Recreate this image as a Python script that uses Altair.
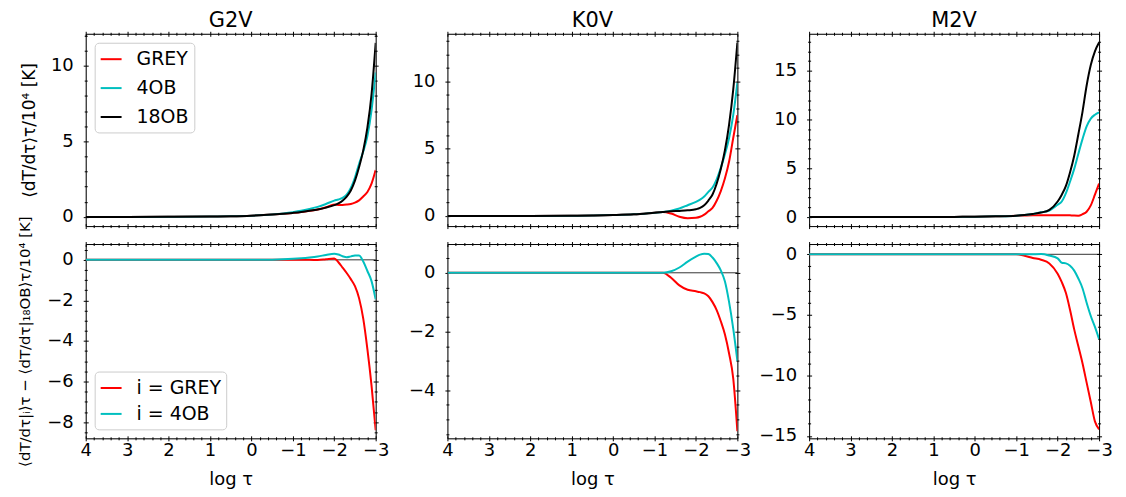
import altair as alt
import pandas as pd

# ---------------- data ----------------
log_tau = [4.0, 3.0, 2.0, 1.0, 0.5, 0.0, -0.5, -1.0, -1.2, -1.4, -1.6, -1.8,
           -2.0, -2.1, -2.2, -2.3, -2.4, -2.5, -2.6, -2.7, -2.8, -2.9, -3.0]

star_names = ["G2V", "K0V", "M2V"]
top_series = ["GREY", "4OB", "18OB"]
bottom_series = ["i = GREY", "i = 4OB"]
top_colors = ["#ff0000", "#00bfbf", "#000000"]
bottom_colors = ["#ff0000", "#00bfbf"]

g2v_grey = [0, 0, 0.01, 0.03, 0.05, 0.09, 0.16, 0.27, 0.33, 0.41, 0.49, 0.64, 0.82, 0.8, 0.8, 0.82, 0.86, 0.95, 1.1, 1.35, 1.65, 2.2, 3.1]
g2v_4ob = [0, 0, 0.01, 0.03, 0.05, 0.09, 0.17, 0.32, 0.41, 0.53, 0.67, 0.86, 1.08, 1.16, 1.26, 1.48, 1.92, 2.61, 3.52, 4.32, 5.35, 7.05, 9.55]
g2v_18ob = [0, 0, 0.01, 0.03, 0.05, 0.09, 0.16, 0.27, 0.33, 0.41, 0.5, 0.62, 0.78, 0.9, 1.08, 1.35, 1.75, 2.4, 3.3, 4.4, 5.9, 8.1, 11.5]
g2v_d_grey = [0, 0, 0, 0, 0, 0, 0, 0, 0, 0, -0.01, 0.03, 0.07, -0.12, -0.38, -0.65, -0.95, -1.3, -1.9, -2.9, -4.4, -6.2, -8.4]
g2v_d_4ob = [0, 0, 0, 0, 0, 0, 0.01, 0.05, 0.08, 0.12, 0.17, 0.24, 0.3, 0.26, 0.18, 0.13, 0.17, 0.21, 0.22, -0.08, -0.55, -1.05, -1.95]

k0v_grey = [0, 0, 0, 0.01, 0.03, 0.07, 0.13, 0.25, 0.3, 0.18, -0.05, -0.16, -0.13, -0.06, 0.1, 0.35, 0.6, 1.13, 1.85, 2.8, 4.05, 5.8, 7.5]
k0v_4ob = [0, 0, 0, 0.01, 0.03, 0.07, 0.13, 0.25, 0.3, 0.4, 0.56, 0.8, 1.05, 1.22, 1.45, 1.79, 2.12, 2.73, 3.58, 4.6, 5.8, 7.5, 9.9]
k0v_18ob = [0, 0, 0, 0.01, 0.03, 0.07, 0.13, 0.25, 0.3, 0.35, 0.38, 0.42, 0.5, 0.6, 0.8, 1.15, 1.6, 2.4, 3.5, 4.9, 6.8, 9.4, 12.9]
k0v_d_grey = [0, 0, 0, 0, 0, 0, 0, 0, 0, -0.17, -0.43, -0.58, -0.63, -0.66, -0.7, -0.8, -1.0, -1.27, -1.65, -2.1, -2.75, -3.6, -5.4]
k0v_d_4ob = [0, 0, 0, 0, 0, 0, 0, 0, 0, 0.05, 0.18, 0.38, 0.55, 0.62, 0.65, 0.64, 0.52, 0.33, 0.08, -0.3, -1.0, -1.9, -3.0]

m2v_grey = [0, 0, 0, 0.01, 0.02, 0.04, 0.08, 0.15, 0.16, 0.18, 0.2, 0.2, 0.2, 0.2, 0.2, 0.18, 0.16, 0.15, 0.3, 0.55, 1.2, 2.3, 3.45]
m2v_4ob = [0, 0, 0, 0.01, 0.02, 0.04, 0.08, 0.15, 0.22, 0.33, 0.49, 0.68, 1.27, 1.6, 2.45, 3.65, 4.95, 6.5, 8.0, 9.3, 10.1, 10.5, 10.75]
m2v_18ob = [0, 0, 0, 0.01, 0.02, 0.04, 0.08, 0.15, 0.22, 0.33, 0.47, 0.75, 1.6, 2.3, 3.2, 4.6, 6.3, 8.5, 10.8, 13.5, 15.6, 17.0, 17.9]
m2v_d_grey = [0, 0, 0, 0, 0, 0, 0, 0, -0.12, -0.3, -0.45, -0.75, -1.6, -2.3, -3.2, -4.6, -6.2, -7.6, -9.0, -10.6, -12.2, -13.8, -14.45]
m2v_d_4ob = [0, 0, 0, 0, 0, 0, 0, 0, 0, 0.01, 0.02, -0.1, -0.33, -0.7, -0.75, -0.95, -1.35, -2.0, -2.8, -4.0, -5.1, -6.0, -7.0]

zero_line = [0]

# axis limits and ticks
x_major = [4, 3, 2, 1, 0, -1, -2, -3]
x_minor = [round(4 - 0.2 * i, 1) for i in range(36) if i % 5 != 0]

top_ydomains = [[-0.6, 12.1], [-0.75, 13.55], [-0.92, 18.8]]
bot_ydomains = [[-8.8, 0.78], [-5.64, 0.98], [-15.2, 0.85]]
top_ymajor = [[0, 5, 10], [0, 5, 10], [0, 5, 10, 15]]
bot_ymajor = [[0, -2, -4, -6, -8], [0, -2, -4], [0, -5, -10, -15]]
top_ystep = [1, 1, 1]
bot_ystep = [0.5, 0.5, 1]

top_ytitle = "⟨dT/dτ⟩τ/10⁴ [K]"
bot_ytitle = "⟨dT/dτ|ᵢ⟩τ − ⟨dT/dτ|₁₈OB⟩τ/10⁴ [K]"
x_title = "log τ"

# ---------------- styling ----------------
FONT = "DejaVu Sans"
W = 291
H_TOP = 193
H_BOT = 195
MAJ = 5
MIN = 3
LBL = 18


def minor_ticks(dom, step, major):
    lo, hi = dom
    n0 = int(lo / step) - 1
    n1 = int(hi / step) + 1
    out = []
    for n in range(n0, n1 + 1):
        v = round(n * step, 2)
        if lo <= v <= hi and v not in major:
            out.append(v)
    return out


def frame_axis(orient):
    return alt.Axis(orient=orient, domain=True, domainColor="black", domainWidth=1,
                    ticks=False, labels=False, grid=False, title=None, values=[0])


def xaxis(orient, values, size, labels=False, title=None):
    kw = dict(orient=orient, values=values, tickSize=size, offset=-size / 2,
              domain=False, grid=False, ticks=True, tickColor="black",
              tickWidth=1, labels=labels, title=title)
    if labels:
        kw.update(format="d", labelFont=FONT, labelFontSize=LBL, labelColor="black",
                  labelPadding=1, labelFlush=False, labelOverlap=False)
    if title is not None:
        kw.update(titleFont=FONT, titleFontSize=LBL, titleFontWeight="normal",
                  titleColor="black", titlePadding=11)
    return alt.Axis(**kw)


def yaxis(orient, values, size, labels=False, title=None, title_size=17, title_pad=12):
    kw = dict(orient=orient, values=values, tickSize=size, offset=-size / 2,
              domain=False, grid=False, ticks=True, tickColor="black",
              tickWidth=1, labels=labels, title=title)
    if labels:
        kw.update(format="d", labelFont=FONT, labelFontSize=LBL, labelColor="black",
                  labelPadding=10, labelFlush=False, labelOverlap=False)
    if title is not None:
        kw.update(titleFont=FONT, titleFontSize=title_size, titleFontWeight="normal",
                  titleColor="black", titlePadding=title_pad)
    return alt.Axis(**kw)


def panel(names, series_values, colors, ydom, ymaj, ystep, height,
          title=None, xlabels=False, ytitle=None, ytitle_size=17, ytitle_pad=12,
          legend_orient=None, row_pad=7, zero=False):
    rows = []
    for name, vals in zip(names, series_values):
        for x, y in zip(log_tau, vals):
            rows.append({"x": x, "y": y, "series": name})
    df = pd.DataFrame(rows)
    xs = alt.Scale(domain=[-3, 4], reverse=True, nice=False, zero=False)
    ys = alt.Scale(domain=ydom, nice=False, zero=False)
    cs = alt.Scale(domain=names, range=colors)
    ymin = minor_ticks(ydom, ystep, ymaj)

    if legend_orient is not None:
        legend = alt.Legend(orient=legend_orient, offset=9, title=None,
                            symbolType="stroke", symbolStrokeWidth=2, symbolSize=440,
                            labelFont=FONT, labelFontSize=19, labelColor="black",
                            labelOffset=14, fillColor="white", strokeColor="#cccccc",
                            cornerRadius=4, padding=5, rowPadding=row_pad)
    else:
        legend = None

    base = alt.Chart(df)

    def ax_layer(xa, ya):
        return base.mark_line(strokeOpacity=0).encode(
            x=alt.X("x:Q", scale=xs, axis=xa),
            y=alt.Y("y:Q", scale=ys, axis=ya),
        )

    layers = [
        ax_layer(frame_axis("bottom"), frame_axis("left")),
        ax_layer(frame_axis("top"), frame_axis("right")),
        ax_layer(xaxis("bottom", x_minor, MIN), yaxis("left", ymin, MIN)),
        ax_layer(xaxis("top", x_minor, MIN), yaxis("right", ymin, MIN)),
        ax_layer(xaxis("top", x_major, MAJ), yaxis("right", ymaj, MAJ)),
        ax_layer(xaxis("bottom", x_major, MAJ, labels=xlabels,
                       title=x_title if xlabels else None),
                 yaxis("left", ymaj, MAJ, labels=True, title=ytitle,
                       title_size=ytitle_size, title_pad=ytitle_pad)),
    ]
    if zero:
        layers.append(
            alt.Chart(pd.DataFrame({"z": zero_line})).mark_rule(
                color="black", strokeWidth=0.8
            ).encode(y=alt.Y("z:Q", scale=ys, axis=None))
        )
    for name in names:
        layers.append(
            base.transform_filter(alt.datum.series == name)
            .mark_line(strokeWidth=2, interpolate="monotone", clip=True)
            .encode(
                x=alt.X("x:Q", scale=xs, axis=None),
                y=alt.Y("y:Q", scale=ys, axis=None),
                color=alt.Color("series:N", scale=cs, legend=legend),
            )
        )
    ch = alt.layer(*layers).resolve_axis(x="independent", y="independent")
    props = dict(width=W, height=height)
    if title is not None:
        props["title"] = alt.TitleParams(text=title, font=FONT, fontSize=21,
                                         fontWeight="normal", color="black",
                                         anchor="middle", offset=0)
    return ch.properties(**props)


top_vals = [
    [g2v_grey, g2v_4ob, g2v_18ob],
    [k0v_grey, k0v_4ob, k0v_18ob],
    [m2v_grey, m2v_4ob, m2v_18ob],
]
bot_vals = [
    [g2v_d_grey, g2v_d_4ob],
    [k0v_d_grey, k0v_d_4ob],
    [m2v_d_grey, m2v_d_4ob],
]

top_panels = []
bot_panels = []
for i, star in enumerate(star_names):
    top_panels.append(panel(
        top_series, top_vals[i], top_colors, top_ydomains[i], top_ymajor[i],
        top_ystep[i], H_TOP, title=star, xlabels=False,
        ytitle=top_ytitle if i == 0 else None, ytitle_size=17, ytitle_pad=12,
        legend_orient="top-left" if i == 0 else None, row_pad=7))
    bot_panels.append(panel(
        bottom_series, bot_vals[i], bottom_colors, bot_ydomains[i], bot_ymajor[i],
        bot_ystep[i], H_BOT, xlabels=True,
        ytitle=bot_ytitle if i == 0 else None, ytitle_size=15, ytitle_pad=14,
        legend_orient="bottom-left" if i == 0 else None, row_pad=4, zero=True))

chart = (
    alt.concat(*top_panels, *bot_panels, columns=3,
               spacing={"row": 18, "column": 72}, bounds="flush")
    .resolve_scale(x="independent", y="independent", color="independent")
    .resolve_legend(color="independent")
    .properties(padding={"left": 9, "top": 0, "right": 5, "bottom": 2}, background="white")
    .configure_view(stroke=None)
    .configure(font=FONT)
)

chart.save("out.html", embed_options={"renderer": "svg", "actions": False})
